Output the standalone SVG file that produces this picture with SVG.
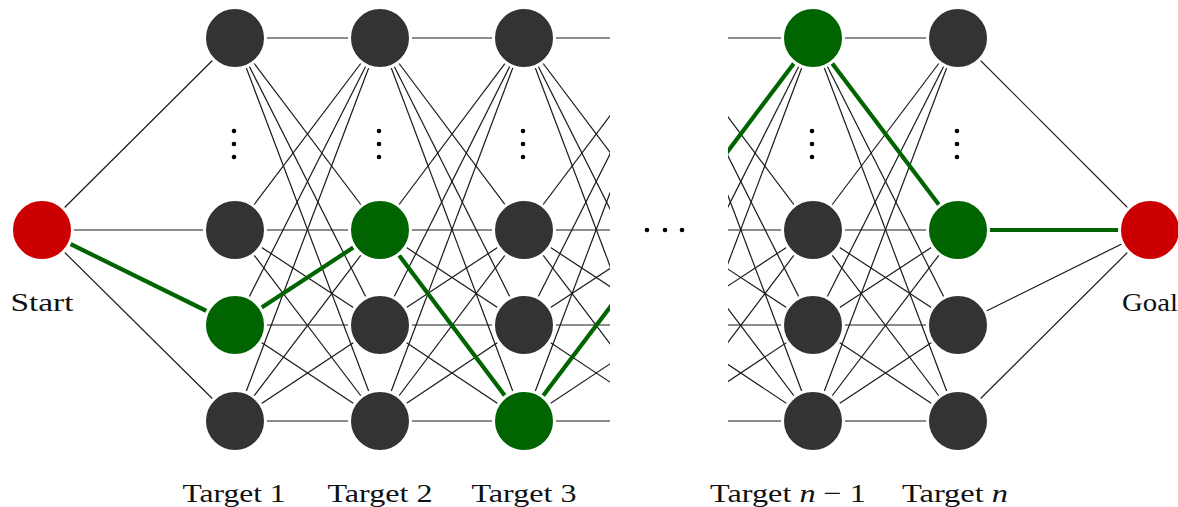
<svg xmlns="http://www.w3.org/2000/svg" width="1178" height="507" viewBox="0 0 1178 507">
<style>
.e{stroke:#1a1a1a;stroke-width:1.2;fill:none}
.g{stroke:#006400;stroke-width:4.2;fill:none}
.n{fill:#333333;stroke:#ffffff;stroke-width:3}
.r{fill:#cc0000;stroke:#ffffff;stroke-width:3}
.gn{fill:#006400;stroke:#ffffff;stroke-width:3}
.t{font-family:"Liberation Serif","DejaVu Serif",serif;font-size:26px;fill:#111}
.d{fill:#000}
</style>
<defs>
<clipPath id="cl"><rect x="0" y="0" width="610" height="507"/></clipPath>
<clipPath id="cr"><rect x="728" y="0" width="450" height="507"/></clipPath>
</defs>
<rect width="1178" height="507" fill="#ffffff"/>
<g id="connectors">
<g id="start-edges">
<line class="e" x1="42" y1="230" x2="235" y2="38"/>
<line class="e" x1="42" y1="230" x2="235" y2="230"/>
<line class="e" x1="42" y1="230" x2="235" y2="421"/>
</g>
<g id="c1-c2">
<line class="e" x1="235" y1="38" x2="380" y2="38"/>
<line class="e" x1="235" y1="38" x2="380" y2="230"/>
<line class="e" x1="235" y1="38" x2="380" y2="325"/>
<line class="e" x1="235" y1="38" x2="380" y2="421"/>
<line class="e" x1="235" y1="230" x2="380" y2="38"/>
<line class="e" x1="235" y1="230" x2="380" y2="230"/>
<line class="e" x1="235" y1="230" x2="380" y2="325"/>
<line class="e" x1="235" y1="230" x2="380" y2="421"/>
<line class="e" x1="235" y1="325" x2="380" y2="38"/>
<line class="e" x1="235" y1="325" x2="380" y2="325"/>
<line class="e" x1="235" y1="325" x2="380" y2="421"/>
<line class="e" x1="235" y1="421" x2="380" y2="38"/>
<line class="e" x1="235" y1="421" x2="380" y2="230"/>
<line class="e" x1="235" y1="421" x2="380" y2="325"/>
<line class="e" x1="235" y1="421" x2="380" y2="421"/>
</g>
<g id="c2-c3">
<line class="e" x1="380" y1="38" x2="524" y2="38"/>
<line class="e" x1="380" y1="38" x2="524" y2="230"/>
<line class="e" x1="380" y1="38" x2="524" y2="325"/>
<line class="e" x1="380" y1="38" x2="524" y2="421"/>
<line class="e" x1="380" y1="230" x2="524" y2="38"/>
<line class="e" x1="380" y1="230" x2="524" y2="230"/>
<line class="e" x1="380" y1="230" x2="524" y2="325"/>
<line class="e" x1="380" y1="325" x2="524" y2="38"/>
<line class="e" x1="380" y1="325" x2="524" y2="230"/>
<line class="e" x1="380" y1="325" x2="524" y2="325"/>
<line class="e" x1="380" y1="325" x2="524" y2="421"/>
<line class="e" x1="380" y1="421" x2="524" y2="38"/>
<line class="e" x1="380" y1="421" x2="524" y2="230"/>
<line class="e" x1="380" y1="421" x2="524" y2="325"/>
<line class="e" x1="380" y1="421" x2="524" y2="421"/>
</g>
<g id="c3-out" clip-path="url(#cl)">
<line class="e" x1="524" y1="38" x2="668.5" y2="38"/>
<line class="e" x1="524" y1="38" x2="668.5" y2="230"/>
<line class="e" x1="524" y1="38" x2="668.5" y2="325"/>
<line class="e" x1="524" y1="38" x2="668.5" y2="421"/>
<line class="e" x1="524" y1="230" x2="668.5" y2="38"/>
<line class="e" x1="524" y1="230" x2="668.5" y2="230"/>
<line class="e" x1="524" y1="230" x2="668.5" y2="325"/>
<line class="e" x1="524" y1="230" x2="668.5" y2="421"/>
<line class="e" x1="524" y1="325" x2="668.5" y2="38"/>
<line class="e" x1="524" y1="325" x2="668.5" y2="230"/>
<line class="e" x1="524" y1="325" x2="668.5" y2="325"/>
<line class="e" x1="524" y1="325" x2="668.5" y2="421"/>
<line class="e" x1="524" y1="421" x2="668.5" y2="38"/>
<line class="e" x1="524" y1="421" x2="668.5" y2="325"/>
<line class="e" x1="524" y1="421" x2="668.5" y2="421"/>
<line class="g" x1="524" y1="421" x2="668.5" y2="230"/>
</g>
<g id="cn1-in" clip-path="url(#cr)">
<line class="e" x1="668.5" y1="38" x2="813" y2="38"/>
<line class="e" x1="668.5" y1="38" x2="813" y2="230"/>
<line class="e" x1="668.5" y1="38" x2="813" y2="325"/>
<line class="e" x1="668.5" y1="38" x2="813" y2="421"/>
<line class="e" x1="668.5" y1="230" x2="813" y2="230"/>
<line class="e" x1="668.5" y1="230" x2="813" y2="325"/>
<line class="e" x1="668.5" y1="230" x2="813" y2="421"/>
<line class="e" x1="668.5" y1="325" x2="813" y2="38"/>
<line class="e" x1="668.5" y1="325" x2="813" y2="230"/>
<line class="e" x1="668.5" y1="325" x2="813" y2="325"/>
<line class="e" x1="668.5" y1="325" x2="813" y2="421"/>
<line class="e" x1="668.5" y1="421" x2="813" y2="38"/>
<line class="e" x1="668.5" y1="421" x2="813" y2="230"/>
<line class="e" x1="668.5" y1="421" x2="813" y2="325"/>
<line class="e" x1="668.5" y1="421" x2="813" y2="421"/>
<line class="g" x1="668.5" y1="230" x2="813" y2="38"/>
</g>
<g id="cn1-cn">
<line class="e" x1="813" y1="38" x2="958" y2="38"/>
<line class="e" x1="813" y1="38" x2="958" y2="325"/>
<line class="e" x1="813" y1="38" x2="958" y2="421"/>
<line class="e" x1="813" y1="230" x2="958" y2="38"/>
<line class="e" x1="813" y1="230" x2="958" y2="230"/>
<line class="e" x1="813" y1="230" x2="958" y2="325"/>
<line class="e" x1="813" y1="230" x2="958" y2="421"/>
<line class="e" x1="813" y1="325" x2="958" y2="38"/>
<line class="e" x1="813" y1="325" x2="958" y2="230"/>
<line class="e" x1="813" y1="325" x2="958" y2="325"/>
<line class="e" x1="813" y1="325" x2="958" y2="421"/>
<line class="e" x1="813" y1="421" x2="958" y2="38"/>
<line class="e" x1="813" y1="421" x2="958" y2="230"/>
<line class="e" x1="813" y1="421" x2="958" y2="325"/>
<line class="e" x1="813" y1="421" x2="958" y2="421"/>
</g>
<g id="goal-edges">
<line class="e" x1="958" y1="38" x2="1150" y2="230"/>
<line class="e" x1="958" y1="325" x2="1150" y2="230"/>
<line class="e" x1="958" y1="421" x2="1150" y2="230"/>
</g>
<g id="path">
<line class="g" x1="42" y1="230" x2="235" y2="325"/>
<line class="g" x1="235" y1="325" x2="380" y2="230"/>
<line class="g" x1="380" y1="230" x2="524" y2="421"/>
<line class="g" x1="813" y1="38" x2="958" y2="230"/>
<line class="g" x1="958" y1="230" x2="1150" y2="230"/>
</g>
</g>
<g id="start"><circle class="r" cx="42" cy="230" r="30.5"/><text class="t" x="42" y="311" text-anchor="middle" textLength="63" lengthAdjust="spacingAndGlyphs">Start</text></g>
<g id="goal"><circle class="r" cx="1150" cy="230" r="30.5"/><text class="t" x="1122" y="311" textLength="56" lengthAdjust="spacingAndGlyphs">Goal</text></g>
<g id="t1">
<circle class="n" cx="235" cy="38" r="30.5"/>
<circle class="n" cx="235" cy="230" r="30.5"/>
<circle class="gn" cx="235" cy="325" r="30.5"/>
<circle class="n" cx="235" cy="421" r="30.5"/>
<circle class="d" cx="234" cy="131" r="2.3"/><circle class="d" cx="234" cy="144" r="2.3"/><circle class="d" cx="234" cy="157" r="2.3"/>
<text class="t" x="234" y="502" text-anchor="middle" textLength="103" lengthAdjust="spacingAndGlyphs">Target 1</text>
</g>
<g id="t2">
<circle class="n" cx="380" cy="38" r="30.5"/>
<circle class="gn" cx="380" cy="230" r="30.5"/>
<circle class="n" cx="380" cy="325" r="30.5"/>
<circle class="n" cx="380" cy="421" r="30.5"/>
<circle class="d" cx="379" cy="131" r="2.3"/><circle class="d" cx="379" cy="144" r="2.3"/><circle class="d" cx="379" cy="157" r="2.3"/>
<text class="t" x="380" y="502" text-anchor="middle" textLength="105" lengthAdjust="spacingAndGlyphs">Target 2</text>
</g>
<g id="t3">
<circle class="n" cx="524" cy="38" r="30.5"/>
<circle class="n" cx="524" cy="230" r="30.5"/>
<circle class="n" cx="524" cy="325" r="30.5"/>
<circle class="gn" cx="524" cy="421" r="30.5"/>
<circle class="d" cx="523" cy="131" r="2.3"/><circle class="d" cx="523" cy="144" r="2.3"/><circle class="d" cx="523" cy="157" r="2.3"/>
<text class="t" x="524" y="502" text-anchor="middle" textLength="105" lengthAdjust="spacingAndGlyphs">Target 3</text>
</g>
<g id="ellipsis">
<circle class="d" cx="647" cy="230" r="2.3"/><circle class="d" cx="665" cy="230" r="2.3"/><circle class="d" cx="682" cy="230" r="2.3"/>
</g>
<g id="tn1">
<circle class="gn" cx="813" cy="38" r="30.5"/>
<circle class="n" cx="813" cy="230" r="30.5"/>
<circle class="n" cx="813" cy="325" r="30.5"/>
<circle class="n" cx="813" cy="421" r="30.5"/>
<circle class="d" cx="812" cy="131" r="2.3"/><circle class="d" cx="812" cy="144" r="2.3"/><circle class="d" cx="812" cy="157" r="2.3"/>
<text class="t" x="710" y="502" textLength="156" lengthAdjust="spacingAndGlyphs">Target <tspan font-style="italic">n</tspan> − 1</text>
</g>
<g id="tn">
<circle class="n" cx="958" cy="38" r="30.5"/>
<circle class="gn" cx="958" cy="230" r="30.5"/>
<circle class="n" cx="958" cy="325" r="30.5"/>
<circle class="n" cx="958" cy="421" r="30.5"/>
<circle class="d" cx="957" cy="131" r="2.3"/><circle class="d" cx="957" cy="144" r="2.3"/><circle class="d" cx="957" cy="157" r="2.3"/>
<text class="t" x="902" y="502" textLength="106" lengthAdjust="spacingAndGlyphs">Target <tspan font-style="italic">n</tspan></text>
</g>
</svg>
